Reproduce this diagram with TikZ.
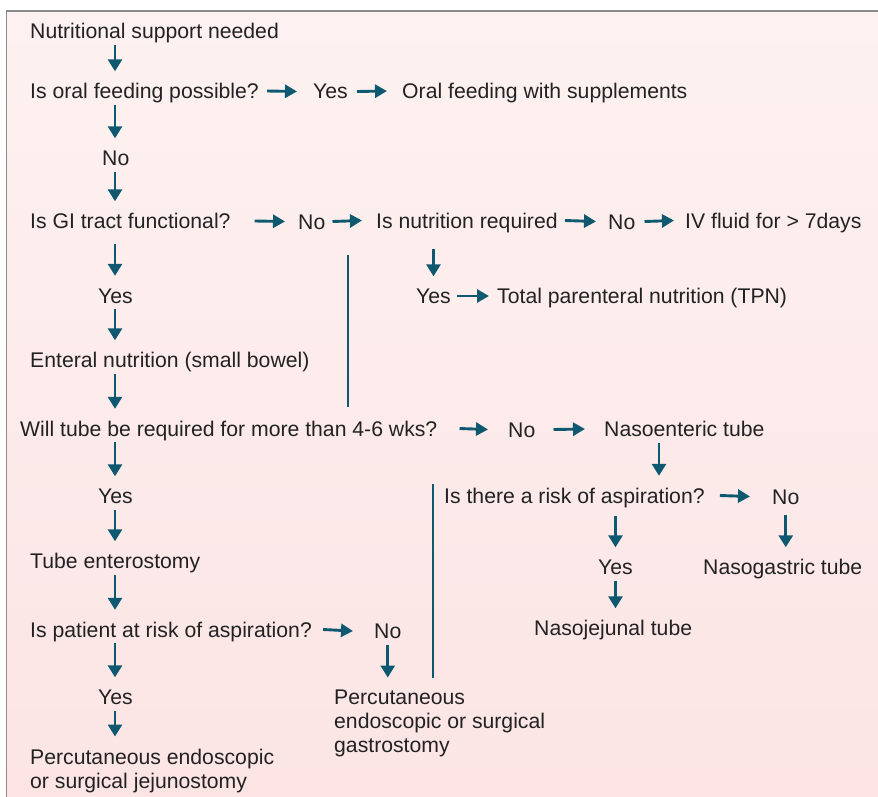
\documentclass[tikz,border=0pt]{standalone}
\usepackage{fontspec}
\setmainfont{Liberation Sans}
\usetikzlibrary{arrows.meta}
\definecolor{arrowc}{HTML}{0E5870}
\definecolor{txt}{HTML}{222222}
\definecolor{bgtop}{HTML}{FDF2F1}
\definecolor{bgbot}{HTML}{FCE4E4}
\definecolor{framec}{HTML}{8C8C8C}
\begin{document}
\begin{tikzpicture}[x=1pt,y=-1pt,
 lbl/.style={anchor=west,inner sep=0pt,text height=15pt,text depth=0pt,font=\fontsize{21.2}{24}\selectfont,text=txt},
 mlbl/.style={anchor=north west,inner sep=0pt,align=left,font=\fontsize{21.2}{24}\selectfont,text=txt},
 conn/.style={draw=arrowc,line width=2.9pt},
 varr/.style={conn,-{Triangle[width=14pt,length=12pt]},shorten <=6pt,shorten >=12pt},
 harr/.style={conn,-{Triangle[width=13pt,length=12pt]}},
]
\useasboundingbox (0,0) rectangle (878,797);
\shade[top color=bgtop,bottom color=bgbot] (6.5,11) rectangle (878,797);
\draw[framec,line width=1.5pt] (6.5,797) -- (6.5,11) -- (878,11);

% nodes
\node[lbl] (n1) at (30,31) {Nutritional support needed};
\node[lbl] (q1) at (30,91) {Is oral feeding possible?};
\node[lbl] (y1) at (313,91.5) {Yes};
\node[lbl] (o1) at (402,91) {Oral feeding with supplements};
\node[lbl] (no1) at (102,158) {No};
\node[lbl] (q2) at (30,221) {Is GI tract functional?};
\node[lbl] (no2) at (298,221.5) {No};
\node[lbl] (q3) at (376,220.5) {Is nutrition required};
\node[lbl] (no3) at (608,221.5) {No};
\node[lbl] (iv) at (685,220.5) {IV fluid for > 7days};
\node[lbl] (y3) at (416,296) {Yes};
\node[lbl] (tpn) at (497,296) {Total parenteral nutrition (TPN)};
\node[lbl] (y2) at (98,295.5) {Yes};
\node[lbl] (en) at (30,360) {Enteral nutrition (small bowel)};
\node[lbl] (q4) at (20,428.5) {Will tube be required for more than 4-6 wks?};
\node[lbl] (no4) at (508,429.5) {No};
\node[lbl] (nt) at (604,429) {Nasoenteric tube};
\node[lbl] (q5) at (444,495.5) {Is there a risk of aspiration?};
\node[lbl] (no5) at (772,496.5) {No};
\node[lbl] (y5) at (598,567) {Yes};
\node[lbl] (ng) at (703,567) {Nasogastric tube};
\node[lbl] (nj) at (534,628) {Nasojejunal tube};
\node[lbl] (y4) at (98,496) {Yes};
\node[lbl] (te) at (30,561) {Tube enterostomy};
\node[lbl] (q6) at (30,629.5) {Is patient at risk of aspiration?};
\node[lbl] (no6) at (374,631) {No};
\node[mlbl] (pg) at (334,689.5) {Percutaneous\\endoscopic or surgical\\gastrostomy};
\node[lbl] (y6) at (98,697) {Yes};
\node[mlbl] (pj) at (30,748.5) {Percutaneous endoscopic\\or surgical jejunostomy};

\coordinate (colA) at (115,0);
\coordinate (colN) at (659,0);

% vertical arrows, left column
\draw[varr] (n1.south -| colA) -- (q1.north -| colA);
\draw[varr] (q1.south -| colA) -- (no1.north -| colA);
\draw[varr] (no1.south -| colA) -- (q2.north -| colA);
\draw[varr,shorten <=15.5pt] (q2.south -| colA) -- (y2.north -| colA);
\draw[varr] (y2.south -| colA) -- (en.north -| colA);
\draw[varr] (en.south -| colA) -- (q4.north -| colA);
\draw[varr] (q4.south -| colA) -- (y4.north -| colA);
\draw[varr] (y4.south -| colA) -- (te.north -| colA);
\draw[varr] (te.south -| colA) -- (q6.north -| colA);
\draw[varr] (q6.south -| colA) -- (y6.north -| colA);
\draw[varr] (y6.south -| colA) -- (pj.north -| colA);
% other vertical arrows
\draw[varr,shorten <=20.5pt] (q3.south -| y3) -- (y3.north);
\draw[varr] (nt.south -| colN) -- (q5.north -| colN);
\draw[varr,shorten <=12.5pt] (q5.south -| y5) -- (y5.north);
\draw[varr,shorten <=10.5pt] (no5.south) -- (ng.north -| no5);
\draw[varr] (y5.south) -- (nj.north -| y5);
\draw[varr] (no6.south) -- (pg.north -| no6);

% horizontal arrows
\draw[harr] ([xshift=8]q1.east) -- ([xshift=-16]y1.west);
\draw[harr] ([xshift=9]y1.east) -- ([xshift=-15]o1.west);
\draw[harr] ([xshift=24]q2.east) -- ([xshift=-13]no2.west);
\draw[harr] ([xshift=7]no2.east) -- ([xshift=-14]q3.west);
\draw[harr] ([xshift=7]q3.east) -- ([xshift=-12]no3.west);
\draw[harr] ([xshift=9]no3.east) -- ([xshift=-11]iv.west);
\draw[harr] ([xshift=6]y3.east) -- ([xshift=-8]tpn.west);
\draw[harr] ([xshift=22]q4.east) -- ([xshift=-20]no4.west);
\draw[harr] ([xshift=18]no4.east) -- ([xshift=-19]nt.west);
\draw[harr] ([xshift=15]q5.east) -- ([xshift=-22]no5.west);
\draw[harr] ([xshift=11]q6.east) -- ([xshift=-21]no6.west);

% plain vertical lines
\coordinate (l1a) at (348,255);
\coordinate (l1b) at (348,407);
\draw[conn] (l1a) -- (l1b);
\coordinate (l2a) at (433,484);
\coordinate (l2b) at (433,678);
\draw[conn] (l2a) -- (l2b);
\end{tikzpicture}
\end{document}
